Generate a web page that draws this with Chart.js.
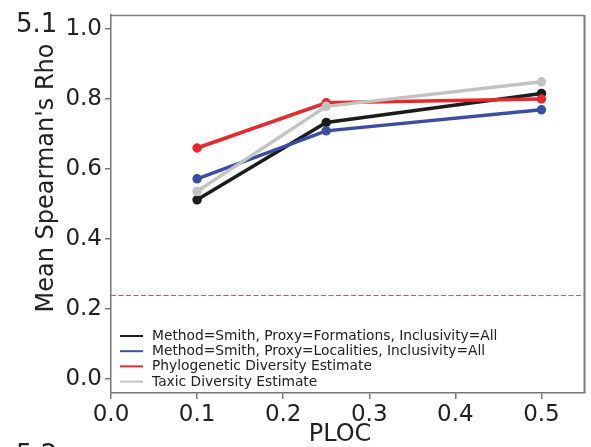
<!DOCTYPE html>
<html>
<head>
<meta charset="utf-8">
<script src="https://cdn.jsdelivr.net/npm/chart.js@4.4.1/dist/chart.umd.min.js"></script>
<style>
  html, body { margin:0; padding:0; background:#fff; }
  #wrap { width:591px; height:447px; position:relative; }
</style>
</head>
<body>
<div id="wrap"><canvas id="c" width="591" height="447"></canvas></div>
<script>
// --- dados ---
const ploc = [0.1, 0.25, 0.5];
const smithFormations = [0.512, 0.733, 0.816];
const smithLocalities = [0.572, 0.709, 0.769];
const phyloEstimate = [0.660, 0.789, 0.800];
const taxicEstimate = [0.536, 0.779, 0.849];
const xTicks = [0.0, 0.1, 0.2, 0.3, 0.4, 0.5];
const yTicks = [0.0, 0.2, 0.4, 0.6, 0.8, 1.0];
const refLine = 0.24;

const FONT = 'DejaVu Sans';

function pts(ys){ return ploc.map((x,i)=>({x, y: ys[i]})); }

// moldura, linha tracejada, legenda e textos
const extras = {
  id: 'extras',
  beforeDatasetsDraw(chart){
    const {ctx, chartArea:{left,right}, scales:{y}} = chart;
    const yy = Math.round(y.getPixelForValue(refLine)) + .5;
    ctx.save();
    ctx.strokeStyle = '#c25a72';
    ctx.lineWidth = 1.2;
    ctx.setLineDash([5,2.5]);
    ctx.beginPath(); ctx.moveTo(left, yy); ctx.lineTo(right, yy); ctx.stroke();
    ctx.restore();
  },
  afterDraw(chart){
    const {ctx, chartArea:{left,right,top,bottom}} = chart;
    ctx.save();
    // top and right spines
    ctx.strokeStyle = '#7a7a7a';
    ctx.lineWidth = 1.5;
    ctx.beginPath(); ctx.moveTo(left, top+.5); ctx.lineTo(right, top+.5); ctx.stroke();
    ctx.lineWidth = 2;
    ctx.beginPath(); ctx.moveTo(right, top); ctx.lineTo(right, bottom); ctx.stroke();

    // legend inside the plot
    const ds = chart.data.datasets;
    ctx.font = '13.8px "' + FONT + '"';
    ctx.textBaseline = 'middle';
    ds.forEach((d,i)=>{
      const cy = bottom - 57 + i*15.2;
      ctx.strokeStyle = d.borderColor;
      ctx.lineWidth = 2;
      ctx.beginPath(); ctx.moveTo(left+9, cy); ctx.lineTo(left+32, cy); ctx.stroke();
      ctx.fillStyle = '#222';
      ctx.fillText(d.label, left+41, cy+0.5);
    });

    // axis titles
    ctx.fillStyle = '#222';
    ctx.font = '24px "' + FONT + '"';
    ctx.textAlign = 'center';
    ctx.textBaseline = 'alphabetic';
    ctx.fillText('PLOC', 340, 441);
    ctx.save();
    ctx.translate(53, 178);
    ctx.rotate(-Math.PI/2);
    ctx.fillText("Mean Spearman's Rho", 0, 0);
    ctx.restore();

    // panel labels
    ctx.textAlign = 'left';
    ctx.font = '26px "' + FONT + '"';
    ctx.fillText('5.1', 16, 32);
    ctx.fillText('5.2', 16, 463);
    ctx.restore();
  }
};

const lineDs = (label, ys, color, order) => ({
  label, data: pts(ys), borderColor: color, backgroundColor: color,
  borderWidth: 3.5, pointRadius: 3, pointHoverRadius: 3, tension: 0, order
});

new Chart(document.getElementById('c'), {
  type: 'line',
  data: {
    datasets: [
      lineDs('Method=Smith, Proxy=Formations, Inclusivity=All', smithFormations, '#1c1c1c', 4),
      lineDs('Method=Smith, Proxy=Localities, Inclusivity=All', smithLocalities, '#3a4ea6', 3),
      lineDs('Phylogenetic Diversity Estimate', phyloEstimate, '#e8282a', 2),
      lineDs('Taxic Diversity Estimate', taxicEstimate, '#c3c3c3', 1)
    ]
  },
  options: {
    responsive: false, animation: false,
    layout: { padding: { left: 0, top: 15, right: 6, bottom: 0 } },
    plugins: { legend: { display: false }, tooltip: { enabled: false } },
    scales: {
      x: {
        type: 'linear', min: 0, max: 0.55,
        afterBuildTicks(s){ s.ticks = xTicks.map(v=>({value:v})); },
        afterFit(s){ s.height = 54; s.paddingLeft = 0; s.paddingRight = 0; },
        grid: { drawOnChartArea: false, drawTicks: true, tickLength: 6, color: '#777', lineWidth: 1.5 },
        border: { display: true, color: '#777', width: 1.5 },
        ticks: { color: '#222', padding: 2, font: { family: FONT, size: 23 }, callback: v => v.toFixed(1) }
      },
      y: {
        type: 'linear', min: -0.04, max: 1.04,
        afterBuildTicks(s){ s.ticks = yTicks.map(v=>({value:v})); },
        afterFit(s){ s.width = 111; s.paddingTop = 0; s.paddingBottom = 0; },
        grid: { drawOnChartArea: false, drawTicks: true, tickLength: 6, color: '#777', lineWidth: 1.5 },
        border: { display: true, color: '#777', width: 1.5 },
        ticks: { color: '#222', padding: 3, font: { family: FONT, size: 23 }, callback: v => v.toFixed(1) }
      }
    }
  },
  plugins: [extras]
});
</script>
</body>
</html>
